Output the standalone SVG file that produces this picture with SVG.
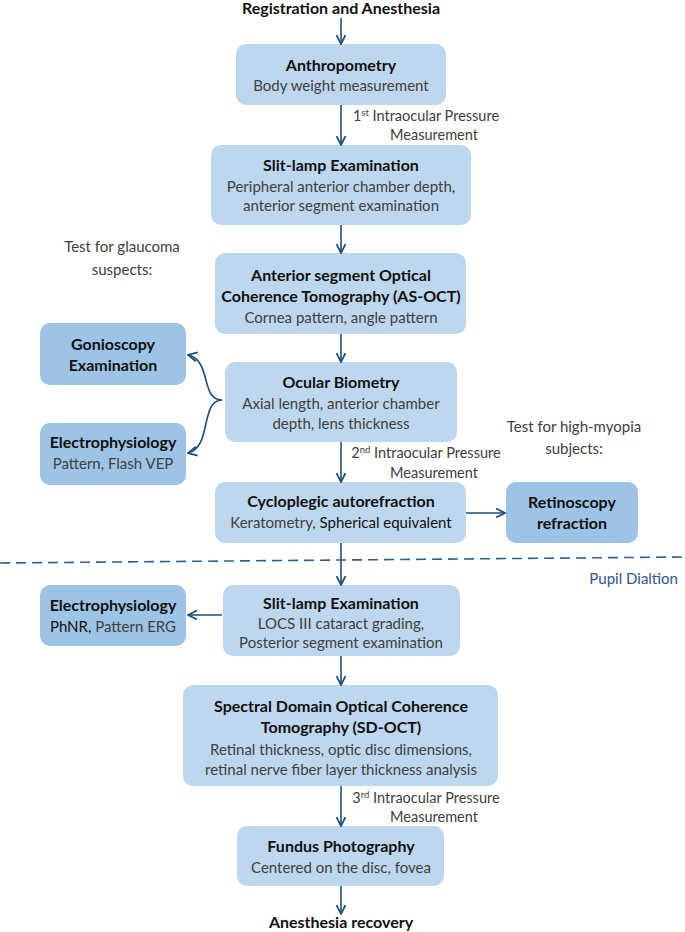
<svg xmlns="http://www.w3.org/2000/svg" width="685" height="932" viewBox="0 0 685 932">
<style>
text{font-family:Lato,"Open Sans",sans-serif;text-anchor:middle;fill:#262626}
.t{font-weight:bold;font-size:16px;fill:#111}
.s{font-size:15px;fill:#404040}
.l{font-size:14.5px;fill:#404040}
.b1{fill:#bdd7ee}
.b2{fill:#9dc3e6}
.c{stroke:#1f4e79;stroke-width:1.6;fill:none;marker-end:url(#a)}
</style>
<defs><marker id="a" viewBox="0 0 10 10" refX="9" refY="5" markerWidth="7" markerHeight="7" orient="auto"><path d="M1,1 L9,5 L1,9" fill="none" stroke="#1f4e79" stroke-width="1.6"/></marker></defs>
<rect width="685" height="932" fill="#fff"/>
<text class="t" x="341" y="14">Registration and Anesthesia</text>
<text class="t" x="341" y="928">Anesthesia recovery</text>
<g id="n1"><rect class="b1" x="236" y="44" width="210" height="61" rx="10"/><text class="t" x="341" y="71">Anthropometry</text><text class="s" x="341" y="91">Body weight measurement</text></g>
<g id="n2"><rect class="b1" x="211" y="145" width="260" height="80" rx="10"/><text class="t" x="341" y="171">Slit-lamp Examination</text><text class="s" x="341" y="192">Peripheral anterior chamber depth,</text><text class="s" x="341" y="211">anterior segment examination</text></g>
<g id="n3"><rect class="b1" x="215" y="253" width="251" height="81" rx="10"/><text class="t" x="341" y="281">Anterior segment Optical</text><text class="t" x="341" y="302">Coherence Tomography (AS-OCT)</text><text class="s" x="341" y="323">Cornea pattern, angle pattern</text></g>
<g id="n4"><rect class="b2" x="40" y="323" width="146" height="62" rx="10"/><text class="t" x="113" y="350">Gonioscopy</text><text class="t" x="113" y="371">Examination</text></g>
<g id="n5"><rect class="b1" x="225" y="362" width="232" height="80" rx="10"/><text class="t" x="341" y="388">Ocular Biometry</text><text class="s" x="341" y="409">Axial length, anterior chamber</text><text class="s" x="341" y="429">depth, lens thickness</text></g>
<g id="n6"><rect class="b2" x="40" y="423" width="146" height="62" rx="10"/><text class="t" x="113" y="448">Electrophysiology</text><text class="s" x="113" y="469">Pattern, Flash VEP</text></g>
<g id="n7"><rect class="b1" x="215" y="482" width="251" height="61" rx="10"/><text class="t" x="341" y="507">Cycloplegic autorefraction</text><text class="s" x="341" y="528">Keratometry, <tspan fill="#111">Spherical equivalent</tspan></text></g>
<g id="n8"><rect class="b2" x="506" y="482" width="132" height="61" rx="10"/><text class="t" x="572" y="508">Retinoscopy</text><text class="t" x="572" y="529">refraction</text></g>
<g id="n9"><rect class="b1" x="223" y="585" width="237" height="71" rx="10"/><text class="t" x="341" y="609">Slit-lamp Examination</text><text class="s" x="341" y="629">LOCS III cataract grading,</text><text class="s" x="341" y="648">Posterior segment examination</text></g>
<g id="n10"><rect class="b2" x="40" y="585" width="146" height="61" rx="10"/><text class="t" x="113" y="611">Electrophysiology</text><text class="s" x="113" y="632"><tspan fill="#111">PhNR,</tspan> Pattern ERG</text></g>
<g id="n11"><rect class="b1" x="183" y="685" width="315" height="101" rx="10"/><text class="t" x="341" y="712">Spectral Domain Optical Coherence</text><text class="t" x="341" y="733">Tomography (SD-OCT)</text><text class="s" x="341" y="755">Retinal thickness, optic disc dimensions,</text><text class="s" x="341" y="775">retinal nerve fiber layer thickness analysis</text></g>
<g id="n12"><rect class="b1" x="237" y="826" width="207" height="60" rx="10"/><text class="t" x="341" y="852">Fundus Photography</text><text class="s" x="341" y="873">Centered on the disc, fovea</text></g>
<g id="labels">
<text class="l" x="426" y="121">1<tspan font-size="9.5" dy="-5">st</tspan><tspan dy="5"> Intraocular Pressure</tspan></text><text class="l" x="434" y="140">Measurement</text>
<text class="l" x="426" y="458">2<tspan font-size="9.5" dy="-5">nd</tspan><tspan dy="5"> Intraocular Pressure</tspan></text><text class="l" x="434" y="478">Measurement</text>
<text class="l" x="426" y="803">3<tspan font-size="9.5" dy="-5">rd</tspan><tspan dy="5"> Intraocular Pressure</tspan></text><text class="l" x="434" y="822">Measurement</text>
<text class="s" x="122" y="252">Test for glaucoma</text><text class="s" x="122" y="275">suspects:</text>
<text class="s" x="574" y="432">Test for high-myopia</text><text class="s" x="574" y="454">subjects:</text>
<text class="s" x="678" y="584" style="text-anchor:end;fill:#2f5597">Pupil Dialtion</text>
</g>
<g id="connectors">
<path class="c" d="M341,18V44"/><path class="c" d="M341,105V145"/><path class="c" d="M341,225V253"/><path class="c" d="M341,334V362"/><path class="c" d="M341,442V482"/><path class="c" d="M341,543V585"/><path class="c" d="M341,656V685"/><path class="c" d="M341,786V826"/><path class="c" d="M341,886V914"/>
<path class="c" d="M466,513H505"/><path class="c" d="M222,615H188"/>
<path class="c" d="M222,400C200,400 212,360 188,355"/><path class="c" d="M222,400C200,400 212,448 188,453"/>
<path d="M0,563L685,557" stroke="#2f5f8f" stroke-width="1.6" stroke-dasharray="10,6"/>
</g>
</svg>
